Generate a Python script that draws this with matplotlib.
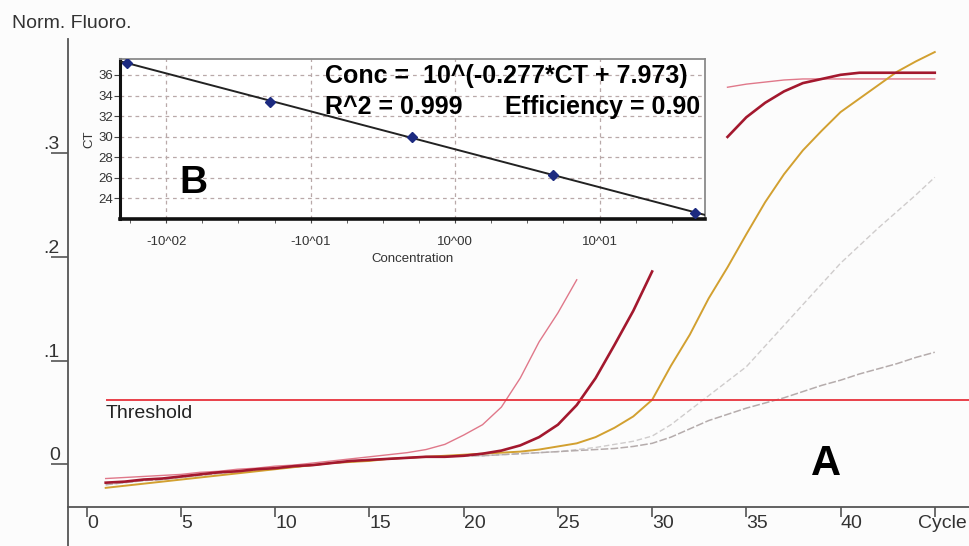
import matplotlib
matplotlib.use("Agg")
import matplotlib.pyplot as plt
from matplotlib.lines import Line2D
from matplotlib.transforms import ScaledTranslation
import numpy as np

plt.rcParams['font.family'] = ['Liberation Sans', 'DejaVu Sans']

# amplification curves, one value per cycle (nan = segment not drawn)
cycles = np.arange(1, 46)
nan = np.nan

pink = [-0.014, -0.013, -0.012, -0.011, -0.010, -0.008, -0.007, -0.005, -0.004, -0.002,
        -0.001, 0.001, 0.003, 0.005, 0.007, 0.009, 0.011, 0.014, 0.019, 0.028,
        0.038, 0.055, 0.083, 0.118, 0.146, 0.178, nan, nan, nan, nan,
        nan, nan, nan, 0.364, 0.367, 0.369, 0.371, 0.372, 0.372, 0.372,
        0.372, 0.372, 0.372, 0.372, 0.372]
dark_red = [-0.018, -0.017, -0.015, -0.014, -0.012, -0.010, -0.008, -0.007, -0.005, -0.004,
            -0.002, -0.001, 0.001, 0.003, 0.004, 0.005, 0.006, 0.007, 0.007, 0.008,
            0.010, 0.013, 0.018, 0.026, 0.038, 0.057, 0.083, 0.115, 0.148, 0.186,
            nan, nan, nan, 0.316, 0.335, 0.349, 0.360, 0.368, 0.372, 0.376,
            0.378, 0.378, 0.378, 0.378, 0.378]
gold = [-0.023, -0.021, -0.019, -0.017, -0.015, -0.013, -0.011, -0.009, -0.007, -0.005,
        -0.003, -0.001, 0.001, 0.002, 0.003, 0.005, 0.006, 0.007, 0.008, 0.009,
        0.010, 0.011, 0.012, 0.014, 0.017, 0.020, 0.026, 0.035, 0.046, 0.062,
        0.095, 0.125, 0.160, 0.190, 0.222, 0.253, 0.280, 0.303, 0.322, 0.340,
        0.353, 0.366, 0.379, 0.389, 0.398]
grey_light = [-0.020, -0.018, -0.016, -0.015, -0.013, -0.011, -0.009, -0.007, -0.006, -0.004,
              -0.003, -0.001, 0.001, 0.002, 0.004, 0.005, 0.006, 0.007, 0.007, 0.008,
              0.008, 0.009, 0.010, 0.011, 0.012, 0.014, 0.016, 0.019, 0.022, 0.027,
              0.038, 0.052, 0.066, 0.080, 0.094, 0.114, 0.134, 0.154, 0.174, 0.194,
              0.211, 0.228, 0.244, 0.260, 0.277]
grey = [-0.020, -0.018, -0.016, -0.015, -0.013, -0.011, -0.009, -0.007, -0.006, -0.004,
        -0.003, -0.001, 0.001, 0.002, 0.004, 0.005, 0.006, 0.007, 0.007, 0.008,
        0.008, 0.009, 0.010, 0.011, 0.012, 0.013, 0.014, 0.015, 0.017, 0.020,
        0.026, 0.034, 0.042, 0.048, 0.054, 0.059, 0.064, 0.070, 0.076, 0.081,
        0.087, 0.092, 0.097, 0.103, 0.108]
threshold = 0.062

x_ticks = [0, 5, 10, 15, 20, 25, 30, 35, 40, 45]
x_labels = ['0', '5', '10', '15', '20', '25', '30', '35', '40', 'Cycle']
y_ticks = [0.0, 0.1, 0.2, 0.3]
y_labels = ['0', '.1', '.2', '.3']

# standard curve (inset)
log_conc = [-2.27, -1.28, -0.30, 0.68, 1.66]
ct = [37.17, 33.38, 30.0, 26.3, 22.6]
conc_ticks = [-2, -1, 0, 1]
conc_labels = ['-10^02', '-10^01', '10^00', '10^01']
ct_ticks = [24, 26, 28, 30, 32, 34, 36]

W, H = 970, 546
fig = plt.figure(figsize=(9.7, 5.46), dpi=100)
fig.patch.set_facecolor('#fcfcfc')

ax = fig.add_axes([68 / W, 39 / H, 902 / W, 468 / H])
ax.set_facecolor('#fcfcfc')
ax.set_xlim(-1.0, 46.87)
ax.set_ylim(-0.0415, 0.4106)

ax.plot(cycles, grey_light, color='#cfcccc', lw=1.0, ls=(0, (4, 2)))
ax.plot(cycles, grey, color='#b5acac', lw=1.1, ls=(0, (5, 1.5)))
ax.plot(cycles, pink, color='#e0788a', lw=1.0)
ax.plot(cycles, gold, color='#d2a030', lw=1.4)
ax.plot(cycles, dark_red, color='#a3182e', lw=1.9)

ax.hlines(threshold, cycles[0], ax.get_xlim()[1], color='#e8323c', lw=1.3)
ax.annotate('Threshold', (cycles[0], threshold), xytext=(0, -4), textcoords='offset points',
            ha='left', va='top', fontsize=14, color='#222222')

for s in ['top', 'right', 'left']:
    ax.spines[s].set_visible(False)
ax.spines['bottom'].set_color('#555555')
ax.spines['bottom'].set_linewidth(1.3)
fig.add_artist(Line2D([68 / W, 68 / W], [0, 1 - 39 / H], color='#555555', lw=1.3))

ax.set_xticks(x_ticks)
ax.set_xticklabels(x_labels, fontsize=14, color='#333333')
ax.tick_params(axis='x', direction='out', length=7, width=1.2, color='#555555', pad=-1)
for lab in ax.get_xticklabels():
    lab.set_horizontalalignment('left')
cycle_lab = ax.get_xticklabels()[-1]
cycle_lab.set_horizontalalignment('center')
cycle_lab.set_transform(cycle_lab.get_transform() + ScaledTranslation(0.08, 0, fig.dpi_scale_trans))

ax.set_yticks(y_ticks)
ax.set_yticklabels(y_labels, fontsize=14, color='#333333')
ax.tick_params(axis='y', direction='out', length=12, width=1.2, color='#555555', pad=-6)
for lab in ax.get_yticklabels():
    lab.set_verticalalignment('bottom')

ax.text(39.2, 0.0, 'A', fontsize=30, fontweight='bold', ha='center', va='center')
fig.text(12 / W, 1 - 23 / H, 'Norm. Fluoro.', fontsize=14, color='#333333', va='center')

# inset
axi = fig.add_axes([120 / W, 1 - 219 / H, 585 / W, 160 / H])
axi.set_facecolor('white')
axi.set_xlim(-2.32, 1.73)
axi.set_ylim(22.0, 37.55)
fit = np.polyfit(log_conc, ct, 1)
xl = np.array(axi.get_xlim())
axi.plot(xl, np.polyval(fit, xl), color='#222222', lw=1.4, zorder=3)
axi.plot(log_conc, ct, ls='none', marker='D', ms=5, color='#1c2a80', zorder=4)

axi.set_xticks(conc_ticks)
axi.set_xticklabels(conc_labels, fontsize=9.5, color='#333333')
axi.set_xticks(np.arange(-2.25, 1.75, 0.25), minor=True)
axi.tick_params(axis='x', which='both', direction='out', length=3, color='#444444', pad=9)
axi.set_yticks(ct_ticks)
axi.set_yticklabels([str(v) for v in ct_ticks], fontsize=9.5, color='#333333')
axi.tick_params(axis='y', direction='out', length=4, color='#444444', pad=1)
axi.grid(True, color='#b9a9a9', lw=0.9, ls=(0, (3, 3)))
axi.set_xlabel('Concentration', fontsize=9.5, color='#333333', labelpad=4)
axi.set_ylabel('CT', fontsize=9.5, color='#333333', labelpad=2)

axi.spines['left'].set_linewidth(2.2)
axi.spines['left'].set_color('#111111')
axi.spines['bottom'].set_linewidth(2.6)
axi.spines['bottom'].set_color('#111111')
for s in ['top', 'right']:
    axi.spines[s].set_linewidth(1.3)
    axi.spines[s].set_color('#8a8a8a')

axi.text(0.350, 0.894, 'Conc =  10^(-0.277*CT + 7.973)', transform=axi.transAxes,
         fontsize=18, fontweight='bold', ha='left', va='center')
axi.text(0.350, 0.70, 'R^2 = 0.999', transform=axi.transAxes,
         fontsize=18, fontweight='bold', ha='left', va='center')
axi.text(0.991, 0.70, 'Efficiency = 0.90', transform=axi.transAxes,
         fontsize=18, fontweight='bold', ha='right', va='center')
axi.text(0.126, 0.225, 'B', transform=axi.transAxes,
         fontsize=28, fontweight='bold', ha='center', va='center')

fig.savefig('out.png', dpi=100, facecolor=fig.get_facecolor())
